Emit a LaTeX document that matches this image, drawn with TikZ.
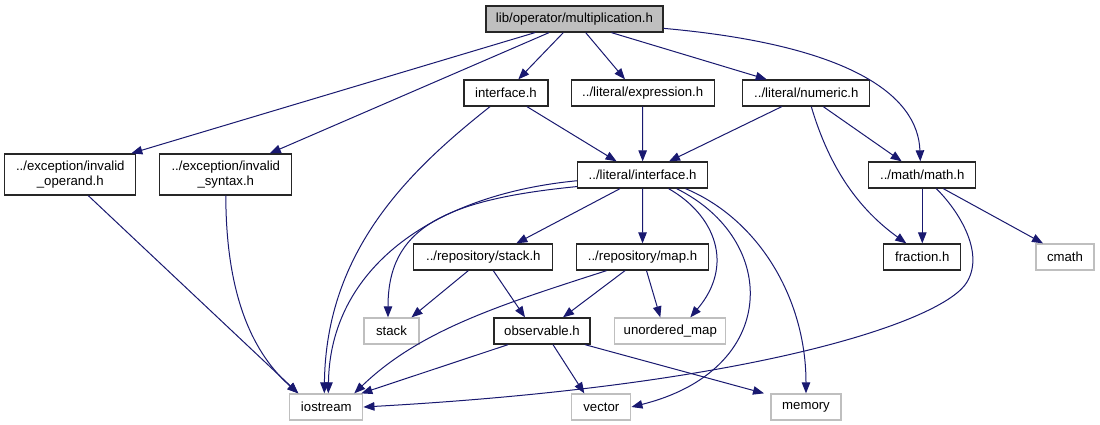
\documentclass[tikz,border=0pt]{standalone}
\usepackage{fontspec}
\setmainfont{Liberation Sans}
\usetikzlibrary{arrows.meta}
\definecolor{edgeblue}{HTML}{191970}
\definecolor{lightgrey}{HTML}{BFBFBF}
\begin{document}
\begin{tikzpicture}[x=1pt,y=-1pt,
  every node/.style={font=\fontsize{13.2}{15}\selectfont, inner sep=0pt, minimum height=26pt, align=center},
  filebox/.style={draw=black!85, line width=1.3pt, fill=white},
  sysbox/.style={draw=lightgrey, line width=1.3pt, fill=white},
  rootbox/.style={draw=black!85, line width=1.3pt, fill=lightgrey},
  link/.style={draw=edgeblue, line width=1pt, -{Triangle[length=11pt,width=8.5pt]}}]
\useasboundingbox[fill=white] (0,0) rectangle (1100,425);

% nodes
\node[rootbox, minimum width=177pt] (root) at (574.5,19) {lib/operator/multiplication.h};
\node[filebox, minimum width=84pt] (iface) at (506,93) {interface.h};
\node[filebox, minimum width=143pt] (expr) at (642.7,93) {../literal/expression.h};
\node[filebox, minimum width=127pt] (num) at (806.3,93) {../literal/numeric.h};
\node[filebox, minimum width=131pt, minimum height=41pt] (invop) at (70.3,174.5) {../exception/invalid\\\_operand.h};
\node[filebox, minimum width=132pt, minimum height=41pt] (syntax) at (225.8,174.5) {../exception/invalid\\\_syntax.h};
\node[filebox, minimum width=130pt] (lit) at (642.6,175) {../literal/interface.h};
\node[filebox, minimum width=107pt] (math) at (922.3,175) {../math/math.h};
\node[filebox, minimum width=139pt] (stackh) at (483.3,257) {../repository/stack.h};
\node[filebox, minimum width=132pt] (map) at (642.5,257) {../repository/map.h};
\node[filebox, minimum width=77pt] (fraction) at (922.3,257) {fraction.h};
\node[sysbox, minimum width=58pt] (cmath) at (1065,257) {cmath};
\node[sysbox, minimum width=55pt] (stack) at (391.5,331) {stack};
\node[filebox, minimum width=96pt] (obs) at (542,331) {observable.h};
\node[sysbox, minimum width=111pt] (umap) at (670.3,331) {unordered\_map};
\node[sysbox, minimum width=73pt] (iostream) at (326.3,407) {iostream};
\node[sysbox, minimum width=59pt] (vector) at (601.3,407) {vector};
\node[sysbox, minimum width=70pt] (memory) at (806,407) {memory};

% edges from root
\draw[link] ([xshift=-39.6pt]root.south) -- ([xshift=61pt]invop.north);
\draw[link] ([xshift=-25.5pt]root.south) -- ([xshift=44pt]syntax.north);
\draw[link] ([xshift=-11.2pt]root.south) -- ([xshift=12.3pt]iface.north);
\draw[link] ([xshift=11.2pt]root.south) -- ([xshift=-17.7pt]expr.north);
\draw[link] ([xshift=37pt]root.south) -- ([xshift=-39.6pt]num.north);
\draw[link] (root.-6) .. controls (850,45) and (918,95) .. ([xshift=-2pt]math.north);

% interface.h
\draw[link] ([xshift=21pt]iface.south) -- ([xshift=-26pt]lit.north);
\draw[link] ([xshift=-16pt]iface.south) .. controls (410,170) and (326,250) .. ([xshift=-2pt]iostream.north);

% expression / numeric
\draw[link] (expr) -- (lit);
\draw[link] ([xshift=-24.6pt]num.south) -- ([xshift=26.4pt]lit.north);
\draw[link] ([xshift=17pt]num.south) -- ([xshift=-20.6pt]math.north);
\draw[link] ([xshift=5pt]num.south) .. controls (830,170) and (860,210) .. ([xshift=-16pt]fraction.north);

% exceptions
\draw[link] ([xshift=18pt]invop.south) -- ([xshift=-28pt]iostream.north);
\draw[link] (syntax.south) .. controls (226,300) and (255,355) .. ([xshift=-28pt]iostream.north);

% literal/interface.h
\draw[link] ([xshift=-22.6pt]lit.south) -- ([xshift=33pt]stackh.north);
\draw[link] (lit) -- (map);
\draw[link] ([xshift=26pt]lit.south) .. controls (715,215) and (735,265) .. ([xshift=20pt]umap.north);
\draw[link] ([xshift=34pt]lit.south) .. controls (780,240) and (780,370) .. (vector.east);
\draw[link] ([xshift=43pt]lit.south) .. controls (760,220) and (806,300) .. (memory.north);
\draw[link] (lit.185) .. controls (430,195) and (330,270) .. ([xshift=2pt]iostream.north);
\draw[link] (lit.190) .. controls (440,200) and (388,230) .. ([xshift=-3.5pt]stack.north);

% math.h
\draw[link] (math) -- (fraction);
\draw[link] ([xshift=21pt]math.south) -- ([xshift=-22pt]cmath.north);
\draw[link] ([xshift=14pt]math.south) .. controls (958,210) and (985,252) .. (967,282)
  .. controls (945,320) and (760,385) .. (iostream.east);

% repository
\draw[link] ([xshift=-36pt]map.south) .. controls (500,305) and (420,330) .. ([xshift=28pt]iostream.north);
\draw[link] ([xshift=-17.5pt]map.south) -- ([xshift=21pt]obs.north);
\draw[link] ([xshift=4pt]map.south) -- ([xshift=-10pt]umap.north);
\draw[link] ([xshift=-15pt]stackh.south) -- ([xshift=20pt]stack.north);
\draw[link] ([xshift=10pt]stackh.south) -- ([xshift=-17pt]obs.north);

% observable.h
\draw[link] ([xshift=-34pt]obs.south) -- ([xshift=35pt]iostream.north);
\draw[link] ([xshift=11pt]obs.south) -- ([xshift=-17pt]vector.north);
\draw[link] ([xshift=43pt]obs.south) -- ([xshift=-42pt]memory.north);
\end{tikzpicture}
\end{document}
